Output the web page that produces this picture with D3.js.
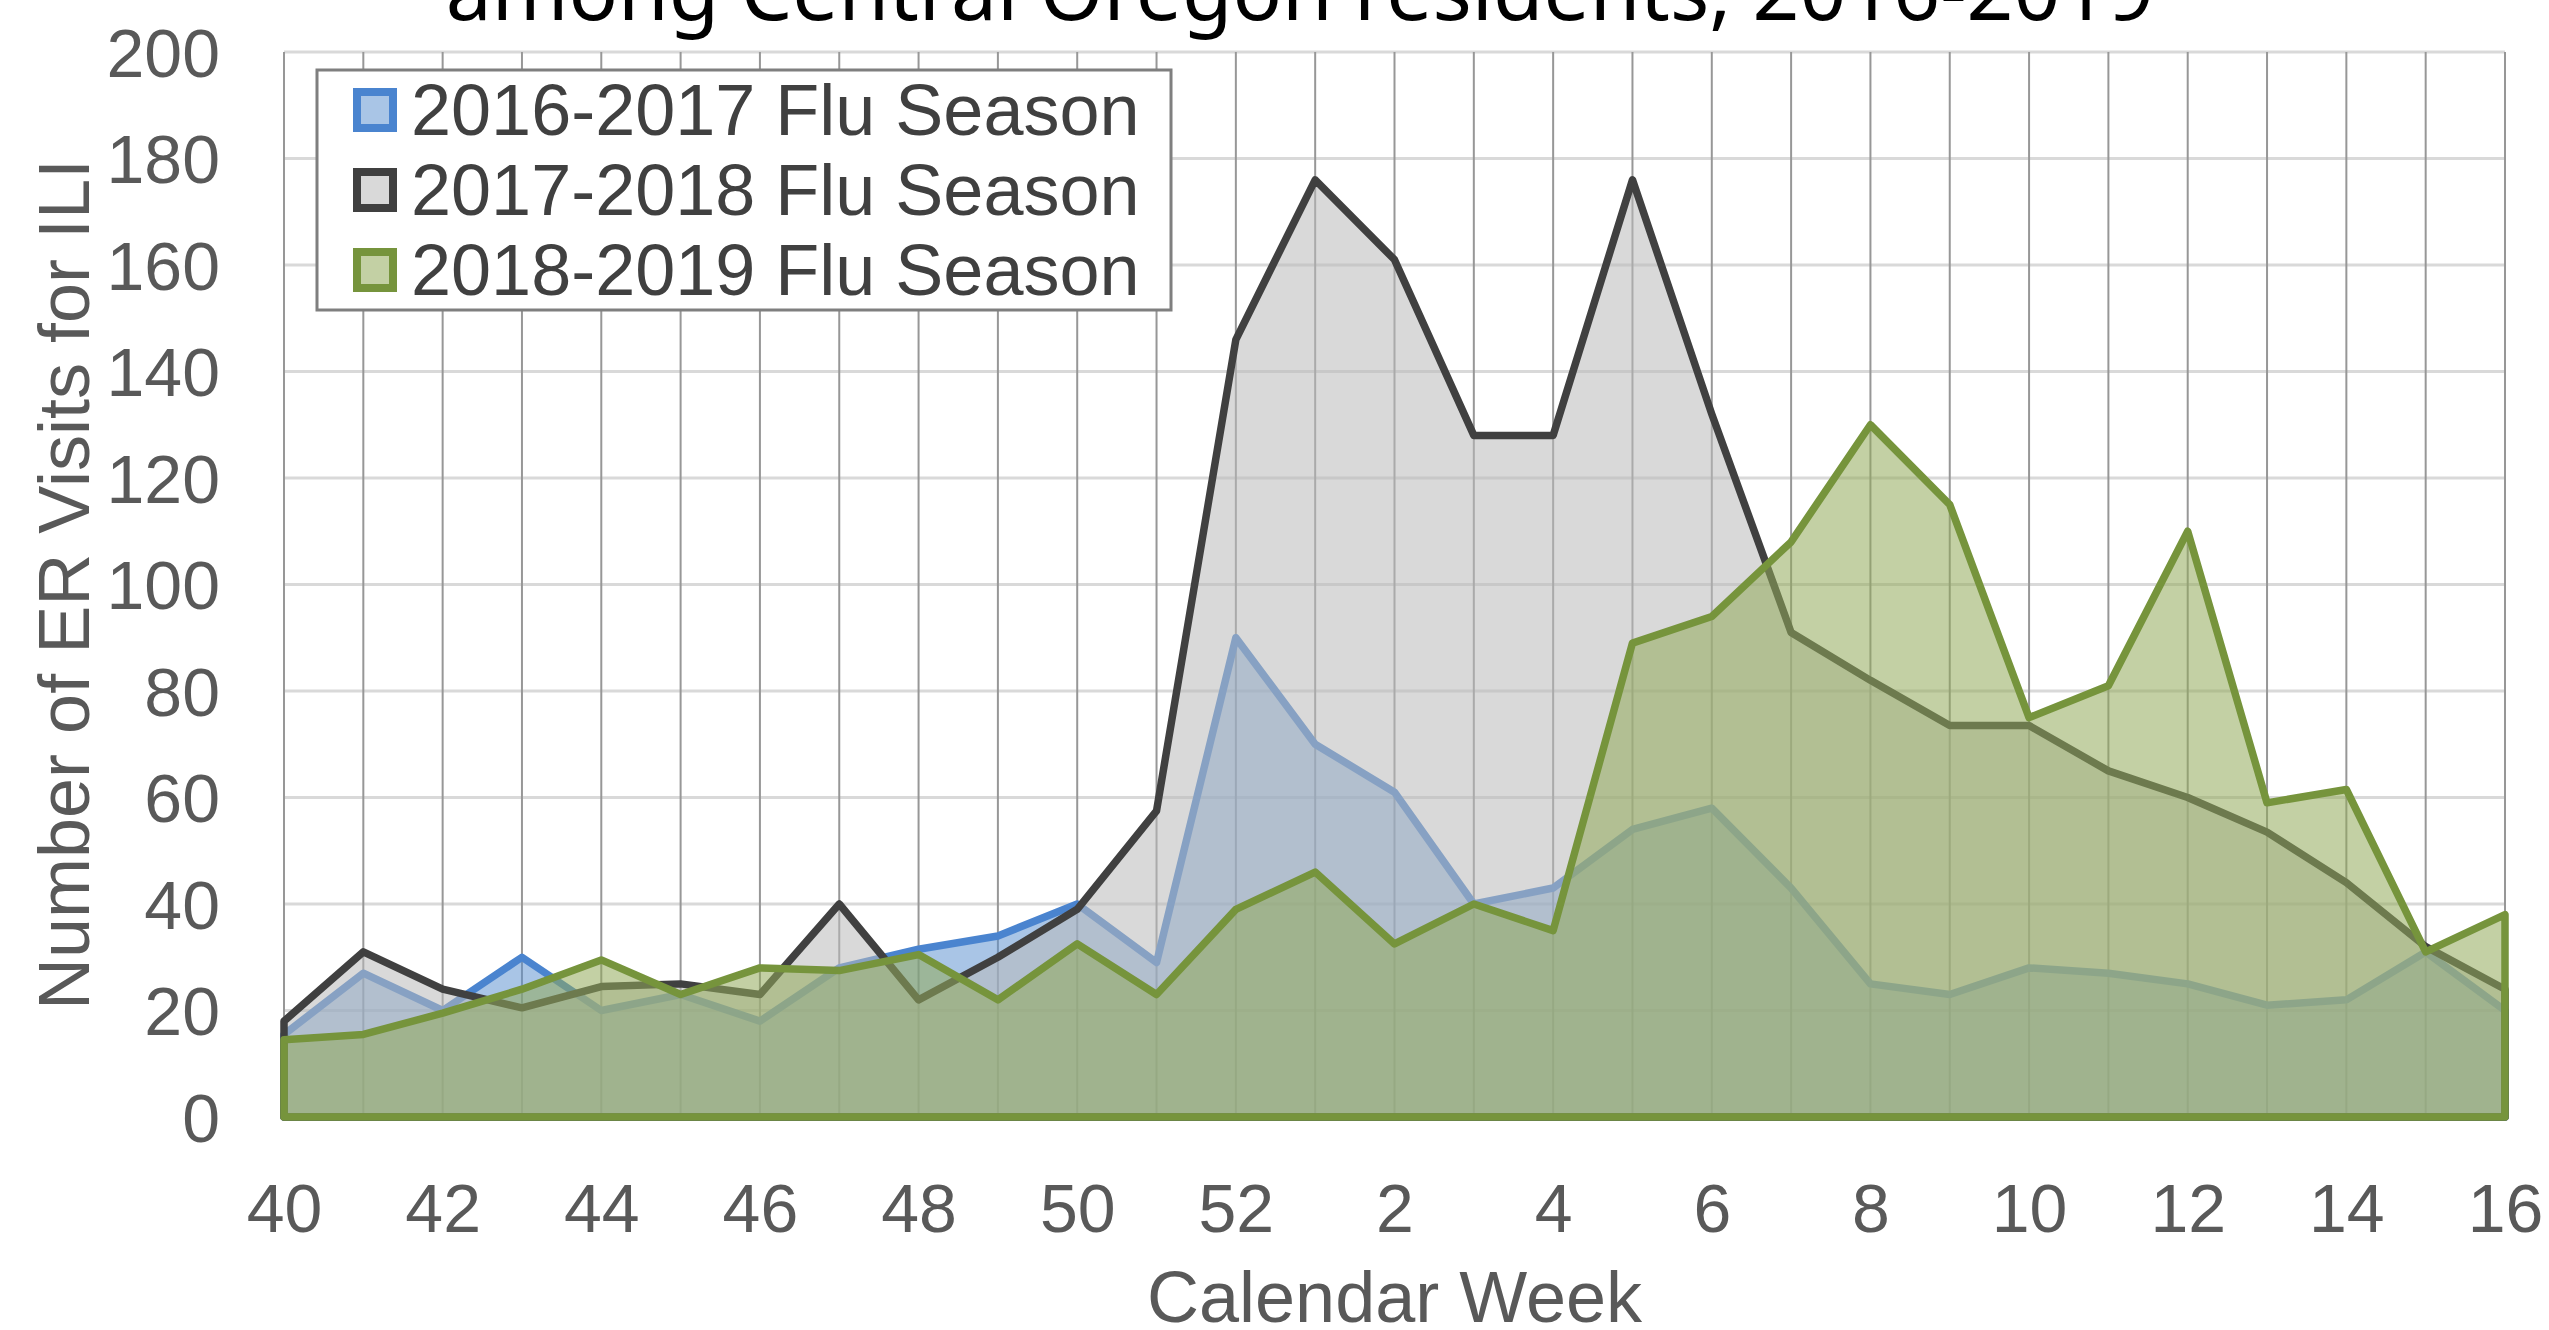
<!DOCTYPE html>
<html>
<head>
<meta charset="utf-8">
<script src="https://cdn.jsdelivr.net/npm/d3@7"></script>
<style>
  html, body { margin: 0; padding: 0; background: #fff; overflow: hidden; }
  svg { display: block; }
</style>
</head>
<body>
<svg id="chart" width="2549" height="1330"></svg>
<script>
const weeks = ['40', '41', '42', '43', '44', '45', '46', '47', '48', '49', '50', '51', '52',
  '1', '2', '3', '4', '5', '6', '7', '8', '9', '10', '11', '12', '13', '14', '15', '16'];

const season1617 = [15.5, 27, 20, 30, 20, 23, 18, 28, 31.5, 34, 40, 29, 90,
  70, 61, 40, 43, 54, 58, 43, 25, 23, 28, 27, 25, 21, 22, 31, 20];
const season1718 = [18, 31, 24, 20.5, 24.5, 25, 23, 40, 22, 30, 39, 57.5, 146,
  176, 161, 128, 128, 176, 132, 91, 82, 73.5, 73.5, 65, 60, 53.5, 44, 32, 24];
const season1819 = [14.5, 15.5, 19.5, 24, 29.5, 23, 28, 27.5, 30.5, 22, 32.5, 23, 39,
  46, 32.5, 40, 35, 89, 94, 108, 130, 115, 75, 81, 110, 59, 61.5, 31, 38];

const seriesNames = ['2016-2017 Flu Season', '2017-2018 Flu Season', '2018-2019 Flu Season'];
const yTicks = [0, 20, 40, 60, 80, 100, 120, 140, 160, 180, 200];

const titleText = 'among Central Oregon residents, 2016-2019';
const xTitle = 'Calendar Week';
const yTitle = 'Number of ER Visits for ILI';

const series = [
  { name: seriesNames[0], values: season1617, line: '#4a84cf', fill: '#5b8fd0', opacity: 0.52 },
  { name: seriesNames[1], values: season1718, line: '#404040', fill: '#bababa', opacity: 0.55 },
  { name: seriesNames[2], values: season1819, line: '#76943c', fill: '#91aa5a', opacity: 0.55 },
];

const svg = d3.select('#chart');
const plot = { left: 284, right: 2505, top: 52, bottom: 1117 };
const axisFont = '"Liberation Sans", Arial, sans-serif';
const axisColor = '#595959';

const x = d3.scalePoint().domain(weeks).range([plot.left, plot.right]);
const y = d3.scaleLinear().domain([0, 200]).range([plot.bottom, plot.top]);

// gridlines
svg.append('g')
  .selectAll('line')
  .data(yTicks)
  .join('line')
  .attr('x1', plot.left)
  .attr('x2', plot.right)
  .attr('y1', d => y(d))
  .attr('y2', d => y(d))
  .attr('stroke', '#d9d9d9')
  .attr('stroke-width', 3);

svg.append('g')
  .selectAll('line')
  .data(weeks)
  .join('line')
  .attr('x1', d => x(d))
  .attr('x2', d => x(d))
  .attr('y1', plot.top)
  .attr('y2', plot.bottom)
  .attr('stroke', '#979797')
  .attr('stroke-width', 2);

// areas, each drawn with its outline so the later fills tint the earlier lines
const area = d3.area()
  .x((d, i) => x(weeks[i]))
  .y0(y(0))
  .y1(d => y(d));

svg.append('g')
  .selectAll('path')
  .data(series)
  .join('path')
  .attr('d', d => area(d.values))
  .attr('fill', d => d3.color(d.fill).copy({ opacity: d.opacity }))
  .attr('stroke', d => d.line)
  .attr('stroke-width', 7.5)
  .attr('stroke-linejoin', 'round');

// axes
const yAxis = svg.append('g')
  .attr('transform', `translate(${plot.left - 64},0)`)
  .call(d3.axisLeft(y).tickValues(yTicks).tickSize(0).tickPadding(0));
yAxis.select('.domain').remove();
yAxis.selectAll('text')
  .attr('dy', '0.36em')
  .style('font-family', axisFont)
  .style('font-size', '68px')
  .attr('fill', axisColor);

const xAxis = svg.append('g')
  .attr('transform', `translate(0,${plot.bottom})`)
  .call(d3.axisBottom(x).tickValues(weeks.filter((d, i) => i % 2 === 0)).tickSize(0).tickPadding(0));
xAxis.select('.domain').remove();
xAxis.selectAll('text')
  .attr('y', 115)
  .attr('dy', 0)
  .style('font-family', axisFont)
  .style('font-size', '68px')
  .attr('fill', axisColor);

svg.append('text')
  .attr('x', (plot.left + plot.right) / 2)
  .attr('y', 1322)
  .attr('text-anchor', 'middle')
  .style('font-family', axisFont)
  .style('font-size', '72px')
  .attr('fill', axisColor)
  .text(xTitle);

svg.append('text')
  .attr('transform', `translate(89,${(plot.top + plot.bottom) / 2}) rotate(-90)`)
  .attr('text-anchor', 'middle')
  .style('font-family', axisFont)
  .style('font-size', '72px')
  .attr('fill', axisColor)
  .text(yTitle);

// title (only its lower part fits in the frame, as in the source)
svg.append('text')
  .attr('x', 1300)
  .attr('y', 20)
  .attr('text-anchor', 'middle')
  .style('font-family', '"Noto Sans", "Open Sans", sans-serif')
  .style('font-size', '82px')
  .attr('fill', '#000')
  .text(titleText);

// legend
const legend = svg.append('g');
legend.append('rect')
  .attr('x', 317)
  .attr('y', 70)
  .attr('width', 854)
  .attr('height', 240)
  .attr('fill', '#fff')
  .attr('stroke', '#7f7f7f')
  .attr('stroke-width', 3);

const rows = legend.selectAll('g.row')
  .data(series)
  .join('g')
  .attr('class', 'row')
  .attr('transform', (d, i) => `translate(0,${110 + i * 80})`);

rows.append('rect')
  .attr('x', 357)
  .attr('y', -18)
  .attr('width', 36)
  .attr('height', 36)
  .attr('fill', d => d3.color(d.fill).copy({ opacity: d.opacity }))
  .attr('stroke', d => d.line)
  .attr('stroke-width', 8);

rows.append('text')
  .attr('x', 411)
  .attr('y', 25)
  .style('font-family', axisFont)
  .style('font-size', '72px')
  .attr('fill', '#404040')
  .text(d => d.name);
</script>
</body>
</html>
